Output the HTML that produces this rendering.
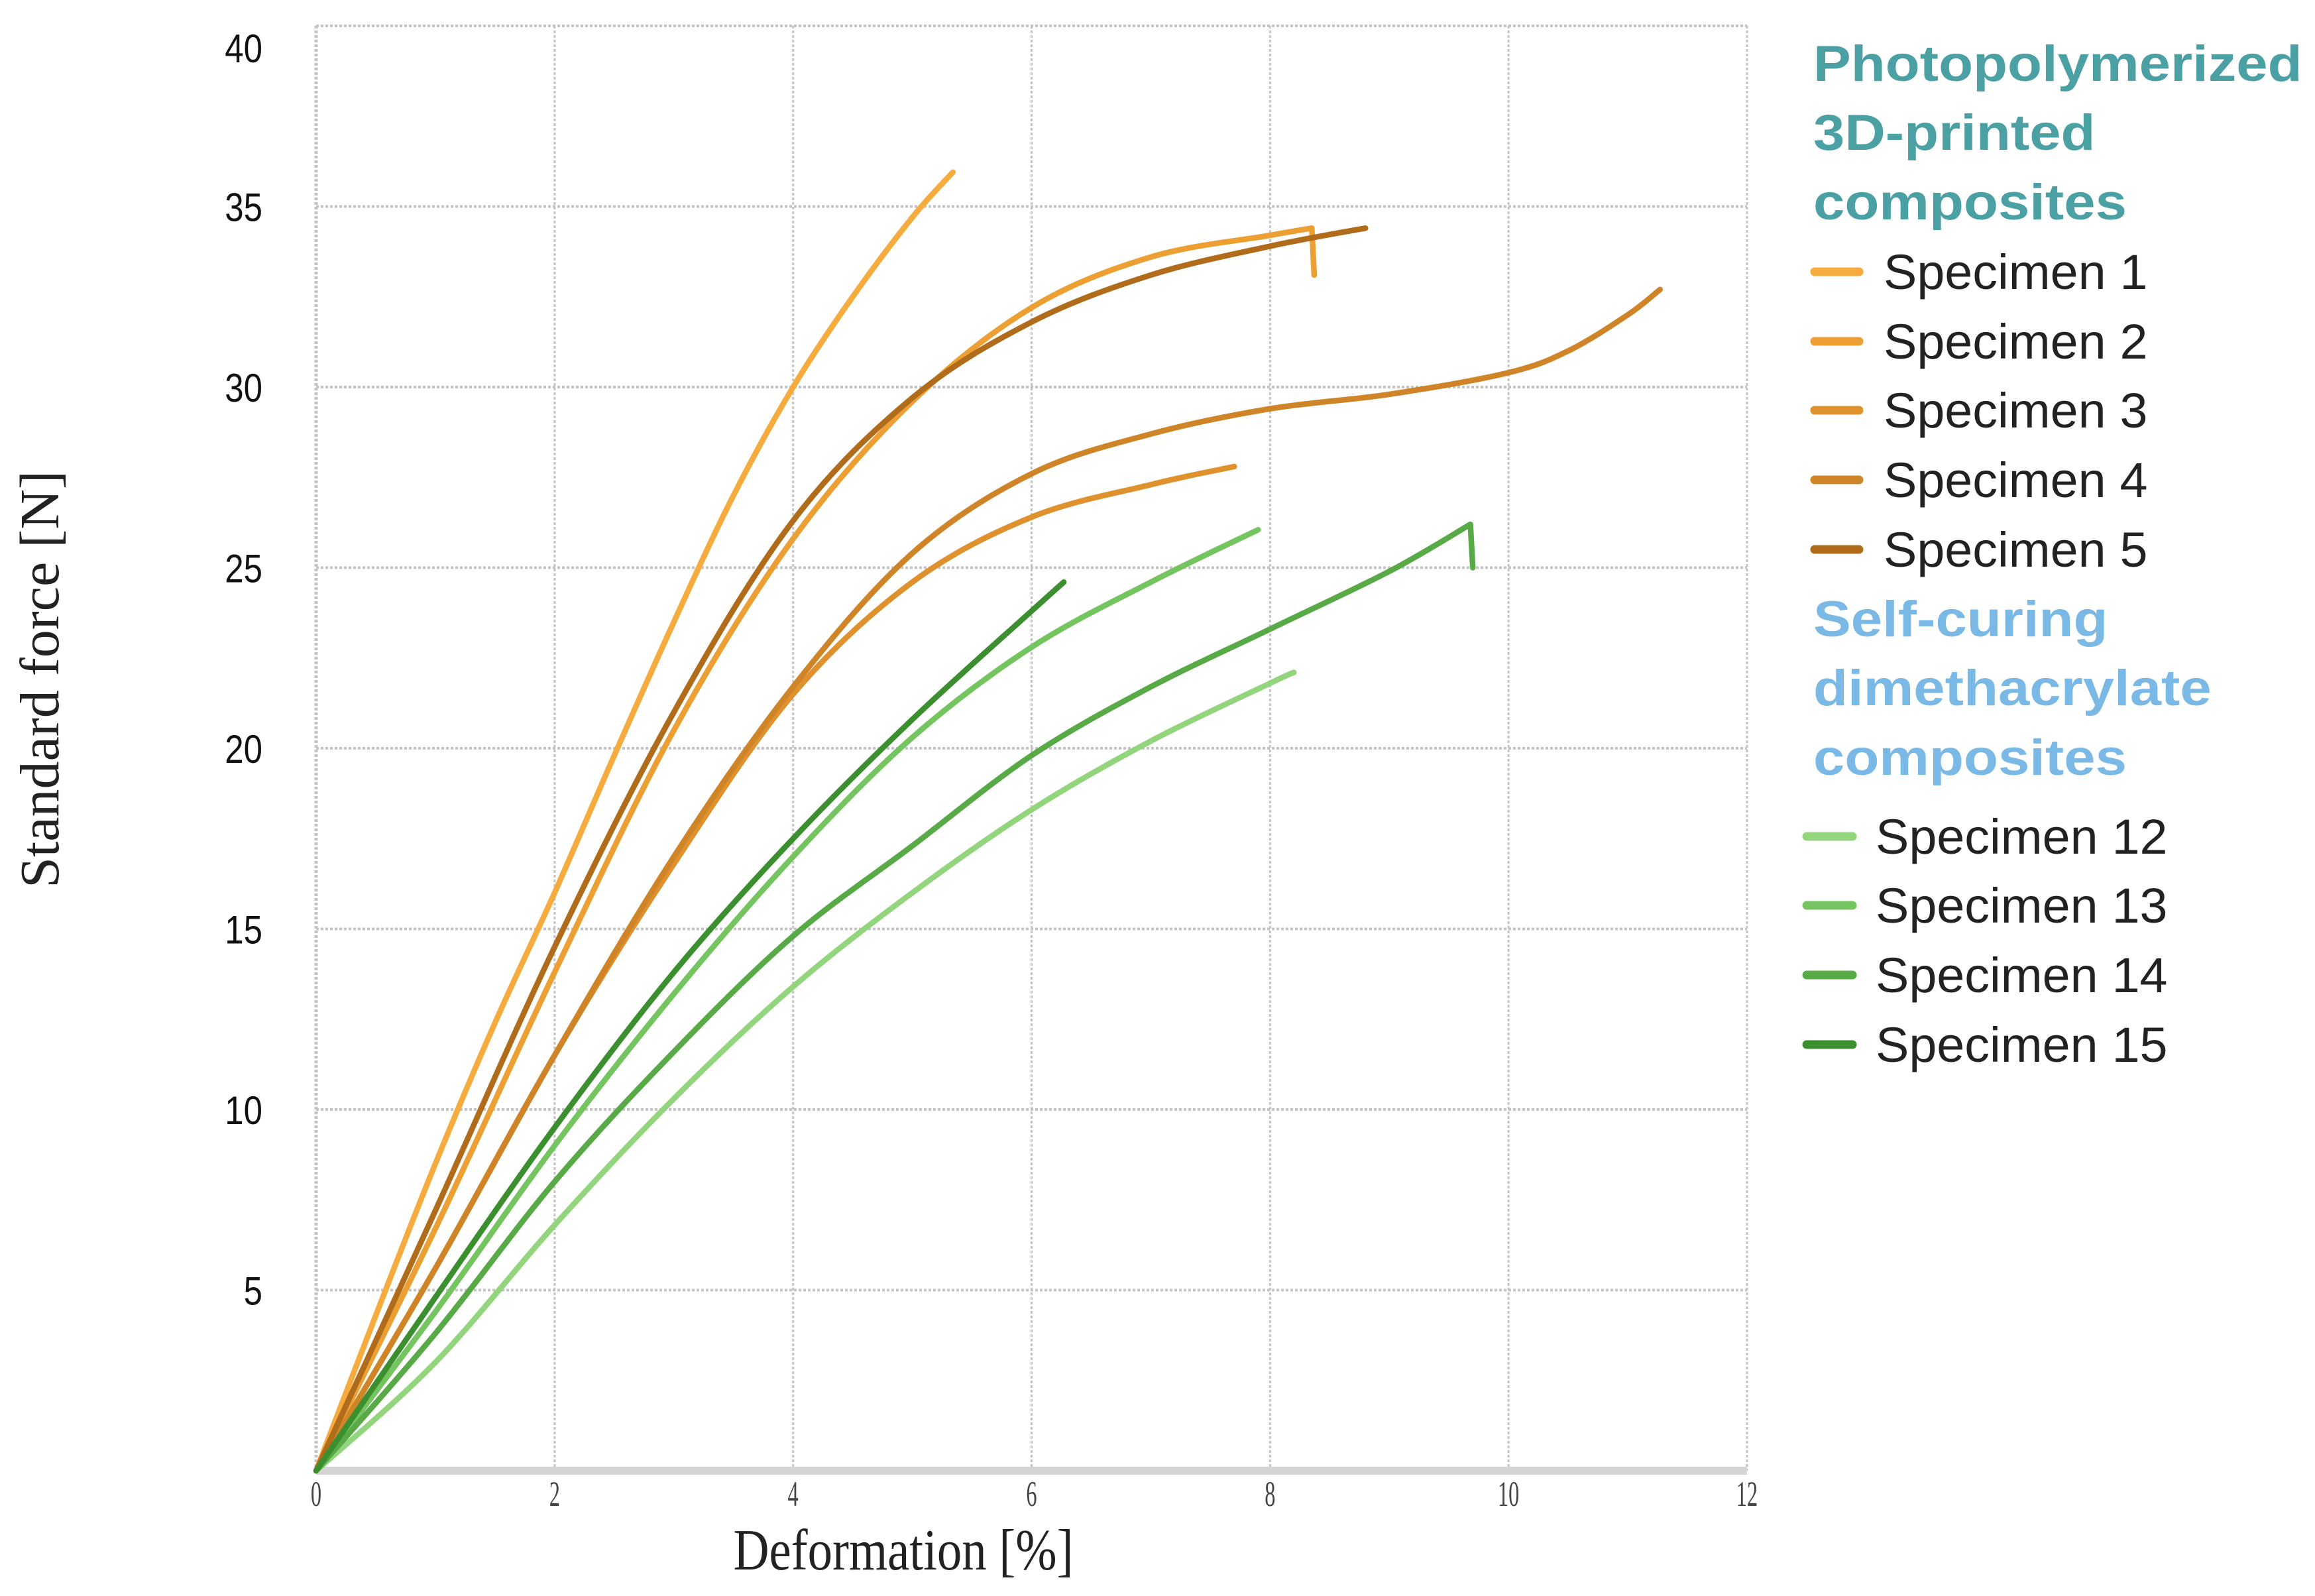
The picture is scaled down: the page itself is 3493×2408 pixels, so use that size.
<!DOCTYPE html>
<html><head><meta charset="utf-8">
<style>
html,body{margin:0;padding:0;background:#fff;}
svg{display:block;}
</style></head>
<body>
<svg id="chart" width="3493" height="2408" viewBox="0 0 3493 2408" xmlns="http://www.w3.org/2000/svg">
<g id="grid"></g>
<g id="ticks"></g>
<g id="series"></g>
<text x="0" y="0" transform="translate(88,1025) rotate(-90)" text-anchor="middle" font-family="Liberation Serif, serif" font-size="84" fill="#222">Standard force [N]</text>
<text x="0" y="0" transform="translate(1363,2368) scale(0.85,1)" text-anchor="middle" font-family="Liberation Serif, serif" font-size="88" fill="#222">Deformation [%]</text>
<g id="legend"></g>
</svg>
<script>
const xTicks=[0,2,4,6,8,10,12];
const yTicks=[5,10,15,20,25,30,35,40];
const seriesNames=["Specimen 1","Specimen 2","Specimen 3","Specimen 4","Specimen 5","Specimen 12","Specimen 13","Specimen 14","Specimen 15"];
const s1x=[0,0.5,1,1.5,2,2.5,3,3.5,4,4.5,5,5.34];
const s1y=[0,4.3,8.5,12.4,16,19.8,23.5,27,30,32.5,34.7,35.95];
const s2x=[0,1,2,3,4,5,6,7,8,8.35,8.37];
const s2y=[0,6.7,13.8,20.5,25.8,29.6,32.2,33.6,34.2,34.4,33.1];
const s3x=[0,1,2,3,4,5,6,7,7.7];
const s3y=[0,5.6,11.5,16.8,21.5,24.6,26.4,27.3,27.8];
const s4x=[0,1,2,3,4,5,6,7,8,9,10,10.5,11,11.27];
const s4y=[0,5.6,11.5,17,21.7,25.4,27.6,28.7,29.4,29.8,30.4,31,32,32.7];
const s5x=[0,1,2,3,4,5,6,7,8,8.8];
const s5y=[0,7.2,14.5,21,26.3,29.7,31.8,33.1,33.9,34.4];
const s12x=[0,1,2,3,4,5,6,7,8,8.2];
const s12y=[0,3,6.8,10.3,13.4,16,18.3,20.2,21.8,22.1];
const s13x=[0,1,2,3,4,5,6,7,7.9];
const s13y=[0,4.4,9,13.2,17,20.3,22.8,24.6,26.05];
const s14x=[0,1,2,3,4,5,6,7,8,9,9.68,9.7];
const s14y=[0,3.8,8,11.6,14.8,17.3,19.8,21.7,23.3,24.9,26.2,25];
const s15x=[0,1,2,3,4,5,6,6.27];
const s15y=[0,4.8,9.5,13.8,17.5,20.8,23.8,24.6];
const allX=[s1x,s2x,s3x,s4x,s5x,s12x,s13x,s14x,s15x];
const allY=[s1y,s2y,s3y,s4y,s5y,s12y,s13y,s14y,s15y];
const colors=["#f5ab3e","#eca034","#df912e","#cf8427","#b06c1a","#92d57c","#74c45f","#57aa45","#3b8f2e"];
const X0=477,X1=2636,Y0=2219,Y1=39;
function sx(v){return X0+v*(X1-X0)/12;}
function sy(v){return Y0-v*(Y0-Y1)/40;}
const NS="http://www.w3.org/2000/svg";
function mk(tag,attrs,parent){const e=document.createElementNS(NS,tag);for(const k in attrs)e.setAttribute(k,attrs[k]);parent.appendChild(e);return e;}
function smoothPath(P){
  // Catmull-Rom to cubic bezier; last segment (drop) kept straight when very short in x
  let d='M'+P[0][0].toFixed(1)+','+P[0][1].toFixed(1);
  for(let i=0;i<P.length-1;i++){
    const p0=P[i-1]||P[i],p1=P[i],p2=P[i+1],p3=P[i+2]||P[i+1];
    if(Math.abs(p2[0]-p1[0])<10){d+=' L'+p2[0].toFixed(1)+','+p2[1].toFixed(1);continue;}
    const q3=(p3&&Math.abs(p3[0]-p2[0])<10)?p2:p3;
    const c1=[p1[0]+(p2[0]-p0[0])/6,p1[1]+(p2[1]-p0[1])/6];
    const c2=[p2[0]-(q3[0]-p1[0])/6,p2[1]-(q3[1]-p1[1])/6];
    d+=' C'+c1.map(v=>v.toFixed(1)).join(',')+' '+c2.map(v=>v.toFixed(1)).join(',')+' '+p2[0].toFixed(1)+','+p2[1].toFixed(1);
  }
  return d;
}
const grid=document.getElementById('grid');
xTicks.forEach(t=>{
  const l=mk('line',{x1:sx(t),x2:sx(t),y1:sy(40),y2:sy(0),stroke:'#c4c4c4','stroke-width':t===0?5:3,'stroke-dasharray':'4,3'},grid);
  
  
});
yTicks.forEach(t=>{
  const l=mk('line',{x1:sx(0),x2:sx(12),y1:sy(t),y2:sy(t),stroke:'#c4c4c4','stroke-width':4,'stroke-dasharray':'4,3'},grid);
  
  
});
const base=mk('line',{x1:sx(0),x2:sx(12),y1:sy(0),y2:sy(0),stroke:'#d4d4d4','stroke-width':12},grid);


const ticks=document.getElementById('ticks');
xTicks.forEach(t=>{
  const tx=mk('text',{x:sx(t),y:2272,'text-anchor':'middle','font-family':'Liberation Serif, serif','font-size':54,fill:'#444',transform:`translate(${sx(t)},0) scale(0.6,1) translate(${-sx(t)},0)`},ticks);
  tx.textContent=t;
  
  
});
yTicks.forEach(t=>{
  const tx=mk('text',{x:396,y:sy(t)+(t===40?55:22),'text-anchor':'end','font-family':'Liberation Sans, sans-serif','font-size':60,fill:'#111',transform:`translate(396,0) scale(0.85,1) translate(-396,0)`},ticks);
  tx.textContent=t;
  
  
});
const series=document.getElementById('series');
for(let i=0;i<allX.length;i++){
  const P=allX[i].map((x,j)=>[sx(x),sy(allY[i][j])]);
  const p=mk('path',{d:smoothPath(P),fill:'none',stroke:colors[i],'stroke-width':8.5,'stroke-linejoin':'round','stroke-linecap':'round'},series);
  
  
}
const legend=document.getElementById('legend');
function head(txt,y,col){
  const t=mk('text',{x:2736,y:y,'font-family':'Liberation Sans, sans-serif','font-weight':'bold','font-size':76,fill:col,transform:'translate(2736,0) scale(1.12,1) translate(-2736,0)'},legend);
  t.textContent=txt;
  
  
}
head('Photopolymerized',122,'#4ba0a3');
head('3D-printed',226,'#4ba0a3');
head('composites',331,'#4ba0a3');
head('Self-curing',960,'#7ab8e6');
head('dimethacrylate',1064,'#7ab8e6');
head('composites',1169,'#7ab8e6');
const legY=[410,515,619,724,829,1262,1366,1471,1576];
for(let i=0;i<9;i++){
  const g=i<5;
  const x0=g?2738:2726, x1=g?2805:2795, tx=g?2842:2830;
  const ln=mk('line',{x1:x0,x2:x1,y1:legY[i],y2:legY[i],stroke:colors[i],'stroke-width':13,'stroke-linecap':'round'},legend);
  
  
  const t=mk('text',{x:tx,y:legY[i]+26,'font-family':'Liberation Sans, sans-serif','font-size':74,fill:'#222',transform:`translate(${tx},0) scale(1.02,1) translate(${-tx},0)`},legend);
  t.textContent=seriesNames[i];
  
  
}
</script>
</body></html>
